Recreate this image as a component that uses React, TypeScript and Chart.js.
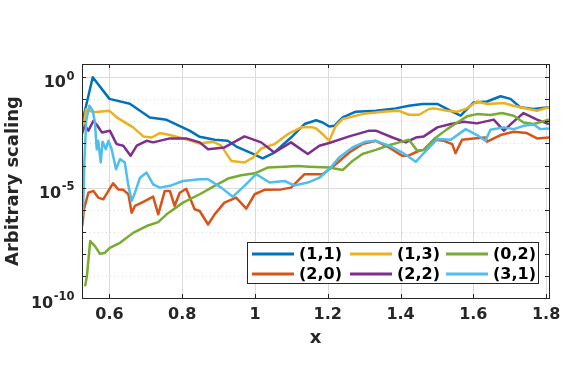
import React, { useEffect, useRef } from 'react';
import { Chart, registerables } from 'chart.js';

Chart.register(...registerables);

// ---- Data (x positions and log10 of the plotted values) ----
const seriesLabels = ['(1,1)', '(2,0)', '(1,3)', '(2,2)', '(0,2)', '(3,1)'];
const seriesColors = ['#0072BD', '#D95319', '#EDB120', '#7E2F8E', '#77AC30', '#4DBEEE'];

const x11 = [0.525, 0.554, 0.6, 0.656, 0.711, 0.757, 0.82, 0.848, 0.889, 0.925, 0.952, 0.99, 1.021, 1.053, 1.099, 1.136, 1.168, 1.186, 1.204, 1.218, 1.241, 1.277, 1.332, 1.387, 1.423, 1.46, 1.501, 1.538, 1.565, 1.601, 1.638, 1.675, 1.702, 1.729, 1.766, 1.808];
const e11 = [-2.05, 0.0, -0.98, -1.2, -1.82, -1.93, -2.42, -2.7, -2.83, -2.88, -3.17, -3.44, -3.68, -3.41, -2.73, -2.12, -1.95, -2.05, -2.23, -2.2, -1.82, -1.56, -1.52, -1.41, -1.29, -1.21, -1.21, -1.52, -1.74, -1.14, -1.1, -0.86, -0.98, -1.36, -1.44, -1.36];

const x20 = [0.525, 0.53, 0.542, 0.556, 0.569, 0.583, 0.61, 0.624, 0.638, 0.652, 0.661, 0.67, 0.693, 0.72, 0.734, 0.752, 0.766, 0.779, 0.793, 0.811, 0.834, 0.848, 0.871, 0.889, 0.916, 0.948, 0.976, 0.999, 1.026, 1.072, 1.099, 1.136, 1.186, 1.222, 1.259, 1.295, 1.332, 1.368, 1.405, 1.42, 1.451, 1.464, 1.492, 1.519, 1.542, 1.551, 1.569, 1.601, 1.633, 1.638, 1.675, 1.711, 1.747, 1.775, 1.808];
const e20 = [-6.74, -5.98, -5.23, -5.15, -5.45, -5.53, -4.8, -5.08, -5.1, -5.3, -6.14, -5.83, -5.65, -5.41, -6.21, -5.15, -5.15, -5.83, -5.23, -5.05, -5.98, -6.06, -6.67, -6.21, -5.68, -5.45, -5.95, -5.3, -5.1, -5.08, -5.0, -4.39, -4.39, -3.94, -3.41, -3.03, -2.88, -3.18, -3.56, -3.56, -3.33, -3.29, -2.83, -2.88, -3.03, -3.44, -2.83, -2.77, -2.73, -2.92, -2.62, -2.47, -2.53, -2.77, -2.73];

const x13 = [0.525, 0.536, 0.556, 0.6, 0.62, 0.665, 0.693, 0.716, 0.738, 0.766, 0.802, 0.848, 0.884, 0.907, 0.935, 0.971, 0.994, 1.017, 1.053, 1.09, 1.127, 1.158, 1.168, 1.186, 1.204, 1.222, 1.241, 1.295, 1.35, 1.396, 1.423, 1.451, 1.478, 1.492, 1.528, 1.556, 1.579, 1.61, 1.638, 1.684, 1.71, 1.775, 1.808];
const e13 = [-2.6, -1.44, -1.59, -1.52, -1.82, -2.27, -2.68, -2.73, -2.53, -2.62, -2.77, -3.0, -2.92, -3.1, -3.79, -3.86, -3.64, -3.23, -3.03, -2.58, -2.27, -2.27, -2.32, -2.58, -2.88, -2.2, -1.89, -1.67, -1.56, -1.52, -1.7, -1.7, -1.44, -1.41, -1.52, -1.56, -1.44, -1.1, -1.21, -1.17, -1.29, -1.52, -1.36];

const x22 = [0.525, 0.533, 0.542, 0.556, 0.567, 0.579, 0.601, 0.615, 0.62, 0.638, 0.658, 0.675, 0.702, 0.72, 0.766, 0.811, 0.848, 0.871, 0.916, 0.971, 1.017, 1.053, 1.099, 1.145, 1.177, 1.204, 1.259, 1.314, 1.332, 1.378, 1.414, 1.442, 1.464, 1.501, 1.538, 1.574, 1.61, 1.656, 1.684, 1.706, 1.738, 1.775, 1.808];
const e22 = [-2.5, -2.2, -2.42, -1.97, -2.2, -2.5, -2.42, -2.88, -3.03, -3.1, -3.56, -3.1, -2.88, -2.95, -2.77, -2.77, -2.95, -3.26, -3.18, -2.68, -2.95, -3.41, -2.95, -3.48, -3.1, -2.98, -2.68, -2.42, -2.42, -2.73, -2.95, -2.73, -2.68, -2.27, -2.12, -2.02, -2.09, -1.92, -2.42, -2.08, -1.62, -1.92, -2.12];

const x02 = [0.533, 0.538, 0.547, 0.56, 0.574, 0.588, 0.601, 0.629, 0.665, 0.702, 0.734, 0.757, 0.802, 0.848, 0.889, 0.926, 0.962, 0.999, 1.035, 1.081, 1.117, 1.149, 1.204, 1.241, 1.268, 1.295, 1.332, 1.368, 1.396, 1.423, 1.446, 1.464, 1.492, 1.528, 1.556, 1.583, 1.61, 1.647, 1.679, 1.711, 1.738, 1.766, 1.808];
const e02 = [-9.47, -9.01, -7.42, -7.65, -8.0, -7.95, -7.73, -7.5, -7.05, -6.74, -6.56, -6.21, -5.68, -5.3, -4.92, -4.59, -4.44, -4.35, -4.09, -4.05, -4.02, -4.05, -4.09, -4.2, -3.79, -3.48, -3.29, -3.08, -2.95, -2.83, -3.33, -3.29, -2.8, -2.35, -2.05, -1.77, -1.67, -1.71, -1.62, -1.74, -2.05, -2.12, -1.92];

const x31 = [0.527, 0.531, 0.536, 0.545, 0.554, 0.56, 0.565, 0.569, 0.576, 0.581, 0.59, 0.597, 0.606, 0.618, 0.629, 0.642, 0.652, 0.661, 0.67, 0.684, 0.702, 0.72, 0.738, 0.766, 0.802, 0.848, 0.871, 0.907, 0.939, 0.971, 1.003, 1.04, 1.081, 1.108, 1.145, 1.177, 1.204, 1.231, 1.268, 1.304, 1.332, 1.368, 1.405, 1.442, 1.46, 1.501, 1.538, 1.579, 1.61, 1.633, 1.647, 1.684, 1.711, 1.738, 1.766, 1.784, 1.808];
const e31 = [-6.29, -3.86, -1.97, -1.29, -1.52, -2.05, -3.26, -2.88, -3.86, -2.92, -3.26, -2.88, -3.26, -4.17, -3.71, -3.86, -4.92, -5.6, -5.23, -4.55, -4.32, -4.85, -5.0, -4.92, -4.7, -4.62, -4.62, -5.0, -5.41, -4.92, -4.39, -4.77, -4.7, -4.9, -4.77, -4.55, -4.17, -3.64, -3.18, -2.92, -2.88, -3.1, -3.41, -3.83, -3.5, -2.8, -2.83, -2.35, -2.62, -2.88, -2.38, -2.27, -2.35, -2.2, -2.14, -2.35, -2.32];

const seriesX = [x11, x20, x13, x22, x02, x31];
const seriesExp = [e11, e20, e13, e22, e02, e31];

const xTicks = [0.6, 0.8, 1.0, 1.2, 1.4, 1.6, 1.8];
const xMin = 0.5245;
const xMax = 1.808;
const yDecades = [-10, -9, -8, -7, -6, -5, -4, -3, -2, -1, 0];
const yLabelExps = [0, -5, -10];
const yMinExp = -10;
const yMaxExp = 0.6;

const FONT = '"DejaVu Sans", "Liberation Sans", sans-serif';
const AXIS_COLOR = '#262626';
const GRID_COLOR = '#dcdcdc';

const matlabAxes = {
  id: 'matlabAxes',
  beforeDatasetsDraw(chart: any) {
    const { ctx, chartArea, scales } = chart;
    const { left, right, top, bottom } = chartArea;
    ctx.save();
    ctx.lineWidth = 1;
    ctx.strokeStyle = GRID_COLOR;
    for (const t of xTicks) {
      const px = Math.round(scales.x.getPixelForValue(t)) + 0.5;
      ctx.setLineDash([]);
      ctx.beginPath();
      ctx.moveTo(px, top);
      ctx.lineTo(px, bottom);
      ctx.stroke();
    }
    for (const d of yDecades) {
      const py = Math.round(scales.y.getPixelForValue(Math.pow(10, d))) + 0.5;
      ctx.setLineDash(d % 5 === 0 ? [] : [1, 3]);
      ctx.beginPath();
      ctx.moveTo(left, py);
      ctx.lineTo(right, py);
      ctx.stroke();
    }
    ctx.restore();
  },
  afterDatasetsDraw(chart: any) {
    const { ctx, chartArea, scales } = chart;
    const { left, right, top, bottom } = chartArea;
    const tl = 4;
    ctx.save();
    ctx.strokeStyle = AXIS_COLOR;
    ctx.lineWidth = 1;
    ctx.setLineDash([]);
    ctx.strokeRect(Math.round(left) + 0.5, Math.round(top) + 0.5, Math.round(right - left), Math.round(bottom - top));
    ctx.beginPath();
    for (const t of xTicks) {
      const px = Math.round(scales.x.getPixelForValue(t)) + 0.5;
      ctx.moveTo(px, bottom);
      ctx.lineTo(px, bottom - tl);
      ctx.moveTo(px, top);
      ctx.lineTo(px, top + tl);
    }
    for (const d of yDecades) {
      const py = Math.round(scales.y.getPixelForValue(Math.pow(10, d))) + 0.5;
      ctx.moveTo(left, py);
      ctx.lineTo(left + tl, py);
      ctx.moveTo(right, py);
      ctx.lineTo(right - tl, py);
    }
    ctx.stroke();

    // y tick labels: 10 with superscript exponent
    ctx.fillStyle = AXIS_COLOR;
    ctx.textBaseline = 'alphabetic';
    ctx.textAlign = 'left';
    const baseFont = 'bold 16px ' + FONT;
    const expFont = 'bold 11.5px ' + FONT;
    for (const e of yLabelExps) {
      const py = scales.y.getPixelForValue(Math.pow(10, e));
      const expText = String(e);
      ctx.font = expFont;
      const ew = ctx.measureText(expText).width;
      ctx.font = baseFont;
      const bw = ctx.measureText('10').width;
      const xr = left - 8;
      const xs = xr - ew - bw;
      ctx.fillText('10', xs, py + 10);
      ctx.font = expFont;
      ctx.fillText(expText, xs + bw + 0.5, py + 2.3);
    }
    ctx.restore();
  },
};

const legendBox = {
  id: 'legendBox',
  afterDraw(chart: any) {
    const { ctx, chartArea } = chart;
    const w = 292;
    const h = 42;
    const bx = Math.round(chartArea.right - 10 - w);
    const by = Math.round(chartArea.bottom - 14 - h);
    const colOffsets = [5, 103, 199];
    const rowOffsets = [12, 32];
    ctx.save();
    ctx.fillStyle = '#ffffff';
    ctx.fillRect(bx, by, w, h);
    ctx.strokeStyle = AXIS_COLOR;
    ctx.lineWidth = 1;
    ctx.strokeRect(bx + 0.5, by + 0.5, w - 1, h - 1);
    chart.data.datasets.forEach((ds: any, i: number) => {
      const col = Math.floor(i / 2);
      const row = i % 2;
      const lx = bx + colOffsets[col];
      const ly = by + rowOffsets[row];
      ctx.strokeStyle = ds.borderColor;
      ctx.lineWidth = 3;
      ctx.beginPath();
      ctx.moveTo(lx, ly);
      ctx.lineTo(lx + 42, ly);
      ctx.stroke();
      ctx.fillStyle = '#000000';
      ctx.font = 'bold 16px ' + FONT;
      ctx.textAlign = 'left';
      ctx.textBaseline = 'middle';
      ctx.fillText(ds.label, lx + 47, ly + 1);
    });
    ctx.restore();
  },
};

export default function App() {
  const canvasRef = useRef<HTMLCanvasElement | null>(null);

  useEffect(() => {
    document.body.style.margin = '0';
    const canvas = canvasRef.current;
    if (!canvas) return;

    const datasets = seriesLabels.map((label, i) => ({
      label,
      data: seriesX[i].map((xv, j) => ({ x: xv, y: Math.pow(10, seriesExp[i][j]) })),
      borderColor: seriesColors[i],
      backgroundColor: seriesColors[i],
      borderWidth: 2.5,
      pointRadius: 0,
      tension: 0,
      fill: false,
      order: seriesLabels.length - i,
      borderJoinStyle: 'round' as const,
    }));

    const chart = new Chart(canvas, {
      type: 'line',
      data: { datasets },
      plugins: [matlabAxes, legendBox],
      options: {
        animation: false,
        responsive: false,
        devicePixelRatio: 1,
        layout: { padding: { left: 0, right: 37, top: 64, bottom: 0 } },
        plugins: {
          legend: { display: false },
          tooltip: { enabled: false },
        },
        scales: {
          x: {
            type: 'linear',
            min: xMin,
            max: xMax,
            afterBuildTicks: (scale: any) => {
              scale.ticks = xTicks.map((v) => ({ value: v }));
            },
            afterFit: (scale: any) => {
              scale.height = 91;
            },
            grid: { display: false, drawTicks: false },
            border: { display: false },
            ticks: {
              autoSkip: false,
              maxRotation: 0,
              padding: 7,
              color: AXIS_COLOR,
              font: { family: FONT, size: 16, weight: 'bold' },
              callback: (v: any) => (Math.abs(v - 1) < 1e-9 ? '1' : Number(v).toFixed(1)),
            },
            title: {
              display: true,
              text: 'x',
              color: AXIS_COLOR,
              font: { family: FONT, size: 18, weight: 'bold' },
              padding: { top: 0, bottom: 40 },
            },
          },
          y: {
            type: 'logarithmic',
            min: Math.pow(10, yMinExp),
            max: Math.pow(10, yMaxExp),
            afterBuildTicks: (scale: any) => {
              scale.ticks = yDecades.map((d) => ({ value: Math.pow(10, d) }));
            },
            afterFit: (scale: any) => {
              scale.width = 82;
            },
            grid: { display: false, drawTicks: false },
            border: { display: false },
            ticks: { display: false },
            title: {
              display: true,
              text: 'Arbitrary scaling',
              color: AXIS_COLOR,
              font: { family: FONT, size: 18, weight: 'bold' },
              padding: { top: 3, bottom: 0 },
            },
          },
        },
      } as any,
    });

    return () => {
      chart.destroy();
    };
  }, []);

  return (
    <div style={{ position: 'absolute', left: 0, top: 0, width: 586, height: 389, background: '#ffffff' }}>
      <canvas ref={canvasRef} width={586} height={389} style={{ display: 'block', width: 586, height: 389 }} />
    </div>
  );
}
